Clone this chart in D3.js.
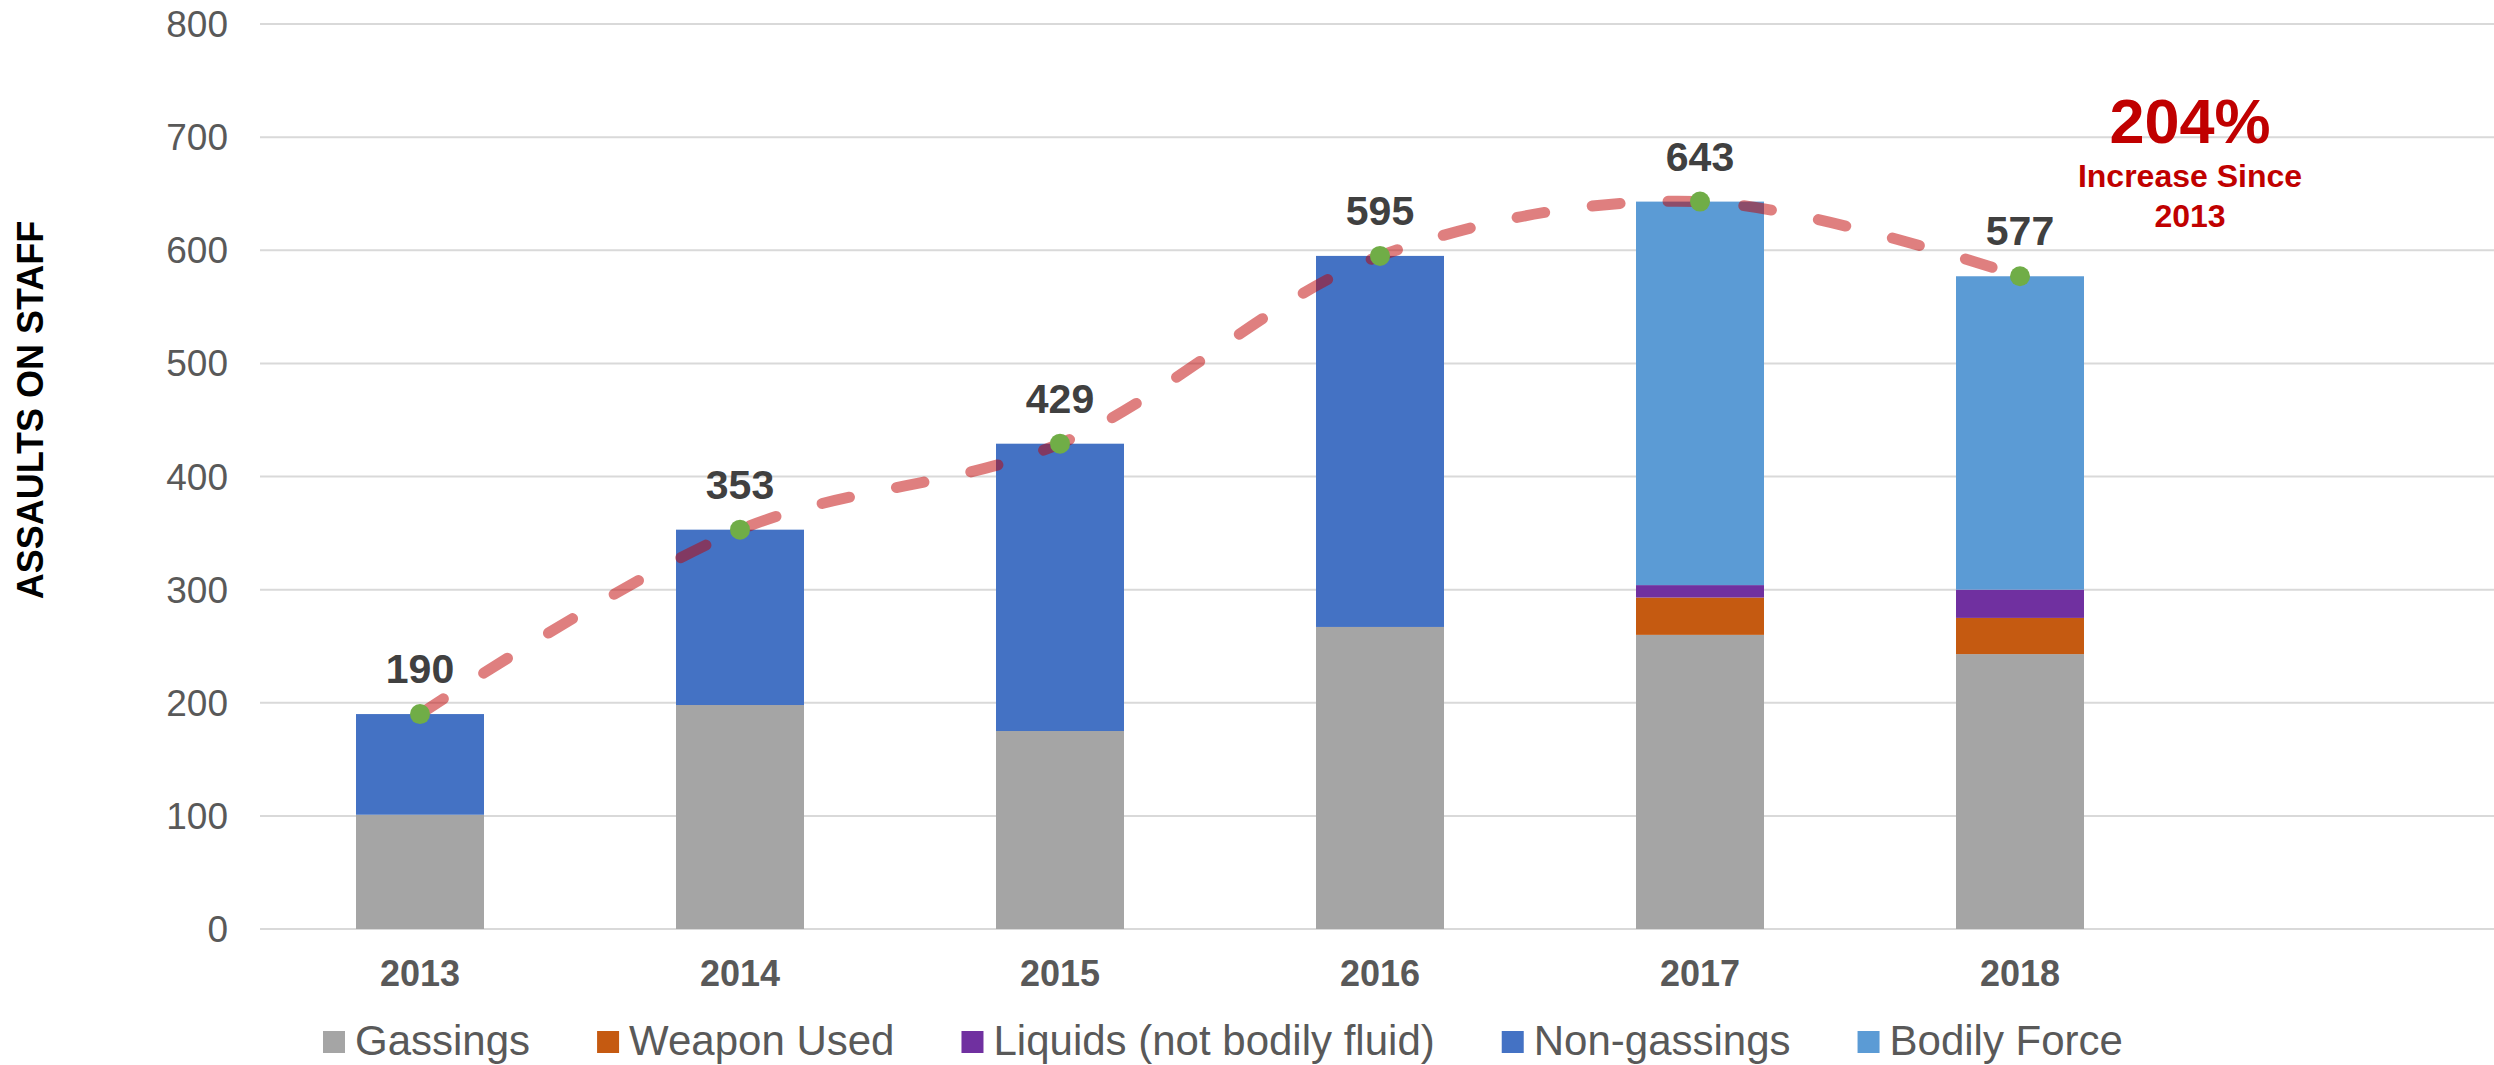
<!DOCTYPE html>
<html>
<head>
<meta charset="utf-8">
<script src="https://cdn.jsdelivr.net/npm/d3@7"></script>
<style>
  html, body { margin: 0; padding: 0; background: #ffffff; }
  svg { display: block; }
  text { font-family: "Liberation Sans", Arial, sans-serif; }
</style>
</head>
<body>
<svg id="chart" width="2494" height="1065"></svg>
<script>
// ---- data ----
const years = ["2013", "2014", "2015", "2016", "2017", "2018"];
const gassings     = [101, 198, 175, 267, 260, 243];
const weaponUsed   = [0, 0, 0, 0, 33, 32];
const liquids      = [0, 0, 0, 0, 11, 25];
const nonGassings  = [89, 155, 254, 328, 0, 0];
const bodilyForce  = [0, 0, 0, 0, 339, 277];
const totals       = [190, 353, 429, 595, 643, 577];
const seriesNames  = ["Gassings", "Weapon Used", "Liquids (not bodily fluid)", "Non-gassings", "Bodily Force"];
const seriesColors = ["#A5A5A5", "#C55A11", "#7030A0", "#4472C4", "#5B9BD5"];
const yTicks       = [0, 100, 200, 300, 400, 500, 600, 700, 800];
const annotationLines = ["204%", "Increase Since", "2013"];

// ---- build table ----
const keys = ["g", "w", "l", "n", "b"];
const table = years.map((y, i) => ({
  year: y, g: gassings[i], w: weaponUsed[i], l: liquids[i], n: nonGassings[i], b: bodilyForce[i], total: totals[i]
}));

const svg = d3.select("#chart");
const plotLeft = 260, plotRight = 2494, y0 = 929, y800 = 24;

const x = d3.scaleBand().domain(years).range([260, 2180]).paddingInner(0.6).paddingOuter(0.3);
const y = d3.scaleLinear().domain([0, 800]).range([y0, y800]);

// gridlines
svg.append("g").selectAll("line").data(yTicks).join("line")
  .attr("x1", plotLeft).attr("x2", plotRight)
  .attr("y1", d => y(d)).attr("y2", d => y(d))
  .attr("stroke", "#D9D9D9").attr("stroke-width", 2);

// y tick labels
svg.append("g").selectAll("text").data(yTicks).join("text")
  .attr("x", 228).attr("y", d => y(d) + 13)
  .attr("text-anchor", "end")
  .attr("font-size", 37).attr("fill", "#595959")
  .text(d => d);

// y axis title
svg.append("text")
  .attr("transform", "translate(43,410) rotate(-90)")
  .attr("text-anchor", "middle")
  .attr("font-size", 36).attr("font-weight", "bold").attr("fill", "#000000")
  .text("ASSAULTS ON STAFF");

// stacked bars
const stack = d3.stack().keys(keys);
const stacked = stack(table);
svg.append("g").selectAll("g").data(stacked).join("g")
  .attr("fill", (d, i) => seriesColors[i])
  .selectAll("rect").data(d => d).join("rect")
  .attr("x", d => x(d.data.year))
  .attr("width", x.bandwidth())
  .attr("y", d => y(d[1]))
  .attr("height", d => Math.max(0, y(d[0]) - y(d[1])));

// x labels
svg.append("g").selectAll("text").data(years).join("text")
  .attr("x", d => x(d) + x.bandwidth() / 2)
  .attr("y", 986)
  .attr("text-anchor", "middle")
  .attr("font-size", 36).attr("font-weight", "bold").attr("fill", "#595959")
  .text(d => d);

// total line
const cx = d => x(d.year) + x.bandwidth() / 2;
const line = d3.line().x(cx).y(d => y(d.total)).curve(d3.curveCatmullRom.alpha(0.5));
svg.append("path").datum(table)
  .attr("d", line)
  .attr("fill", "none")
  .attr("stroke", "#C00000").attr("stroke-opacity", 0.5)
  .attr("stroke-width", 11)
  .attr("stroke-linecap", "round")
  .attr("stroke-dasharray", "28,48");

// markers
svg.append("g").selectAll("circle").data(table).join("circle")
  .attr("cx", cx).attr("cy", d => y(d.total)).attr("r", 10)
  .attr("fill", "#70AD47");

// total labels
svg.append("g").selectAll("text").data(table).join("text")
  .attr("x", cx).attr("y", d => y(d.total) - 31)
  .attr("text-anchor", "middle")
  .attr("font-size", 41).attr("font-weight", "bold").attr("fill", "#404040")
  .text(d => d.total);

// annotation
const ann = svg.append("g").attr("fill", "#C00000").attr("font-weight", "bold").attr("text-anchor", "middle");
ann.append("text").attr("x", 2190).attr("y", 143).attr("font-size", 63).text(annotationLines[0]);
ann.append("text").attr("x", 2190).attr("y", 187).attr("font-size", 32).text(annotationLines[1]);
ann.append("text").attr("x", 2190).attr("y", 227).attr("font-size", 32).text(annotationLines[2]);

// legend
const legend = svg.append("g");
let lx = 323;
seriesNames.forEach((name, i) => {
  legend.append("rect").attr("x", lx).attr("y", 1031).attr("width", 22).attr("height", 22).attr("fill", seriesColors[i]);
  const t = legend.append("text").attr("x", lx + 32).attr("y", 1055)
    .attr("font-size", 42).attr("fill", "#595959").text(name);
  lx = lx + 32 + t.node().getComputedTextLength() + 67;
});
</script>
</body>
</html>
